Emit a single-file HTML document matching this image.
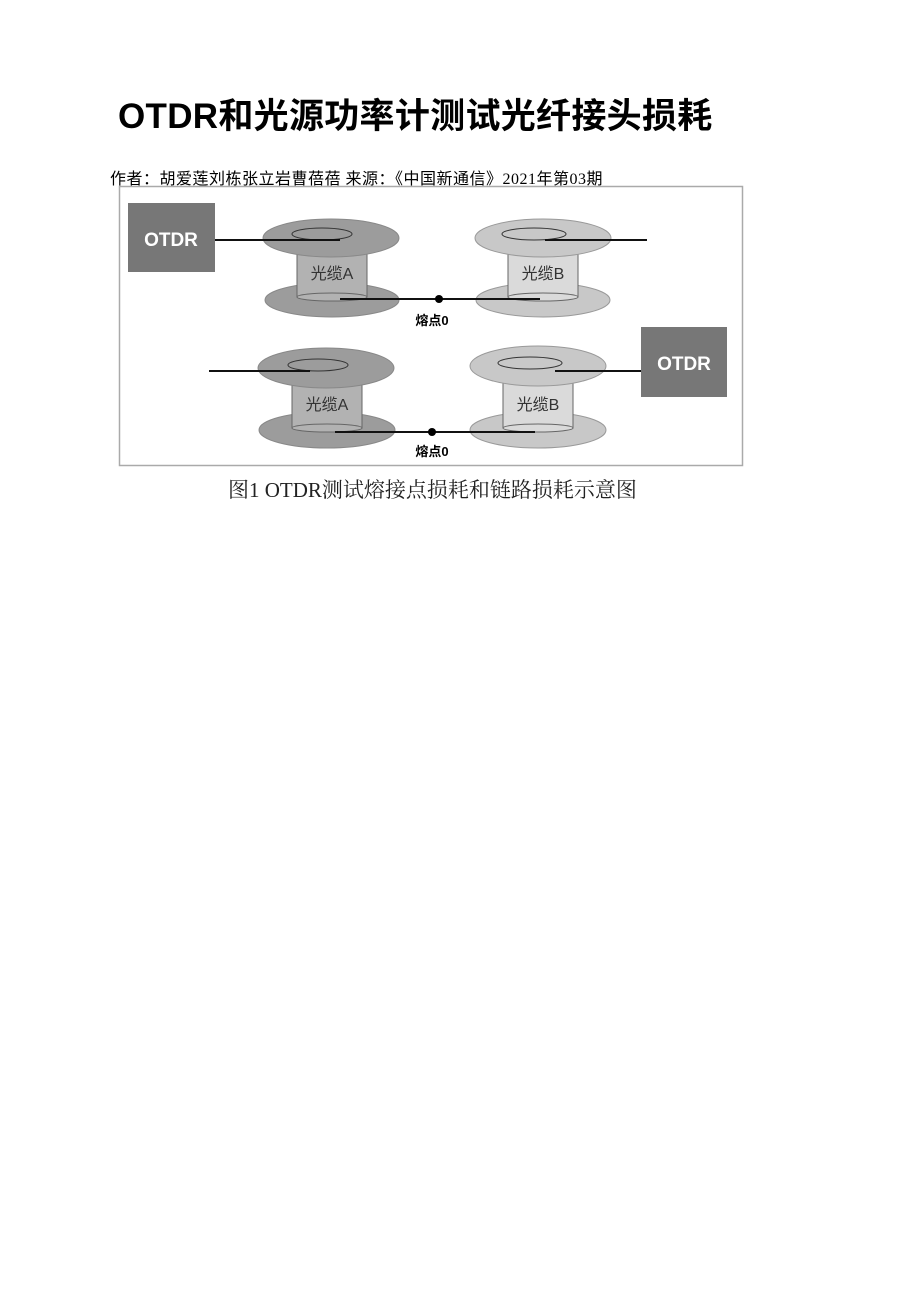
<!DOCTYPE html>
<html><head><meta charset="utf-8"><style>
body{margin:0;background:#fff;width:920px;height:1301px;position:relative;overflow:hidden}
.t{position:absolute;white-space:nowrap}
</style></head><body>
<div class="t" style="left:118px;top:88px;font:bold 35px 'Liberation Sans','Noto Sans CJK SC',sans-serif;letter-spacing:0.3px">OTDR和光源功率计测试光纤接头损耗</div>
<div class="t" style="left:110px;top:165px;font:16px 'Liberation Serif','Noto Sans CJK SC',sans-serif;letter-spacing:0.5px">作者：胡爱莲刘栋张立岩曹蓓蓓 来源：《中国新通信》2021年第03期</div>
<svg style="position:absolute;left:0;top:0" width="920" height="520">
<rect x="119.5" y="186.5" width="623" height="279" fill="#fff" stroke="#aaa" stroke-width="1.5"/>
<g font-family="'Liberation Sans','Noto Sans CJK SC',sans-serif">
<rect x="128" y="203" width="87" height="69" fill="#777"/>
<text x="171" y="246" fill="#fff" font-size="19" font-weight="bold" text-anchor="middle">OTDR</text>
<rect x="641" y="327" width="86" height="70" fill="#777"/>
<text x="684" y="370" fill="#fff" font-size="19" font-weight="bold" text-anchor="middle">OTDR</text>
<ellipse cx="332" cy="300" rx="67" ry="17" fill="#9c9c9c" stroke="#888"/>
<rect x="297" y="252" width="70" height="45" fill="#b2b2b2" stroke="#666"/>
<ellipse cx="332" cy="297" rx="35" ry="4" fill="#b2b2b2" stroke="#666"/>
<ellipse cx="331" cy="238" rx="68" ry="19" fill="#9c9c9c" stroke="#888"/>
<ellipse cx="322" cy="234" rx="30" ry="6" fill="none" stroke="#333"/>
<text x="332" y="279" font-size="16" text-anchor="middle" fill="#333">光缆A</text>
<ellipse cx="543" cy="300" rx="67" ry="17" fill="#c8c8c8" stroke="#999"/>
<rect x="508" y="252" width="70" height="45" fill="#dadada" stroke="#666"/>
<ellipse cx="543" cy="297" rx="35" ry="4" fill="#dadada" stroke="#666"/>
<ellipse cx="543" cy="238" rx="68" ry="19" fill="#c8c8c8" stroke="#999"/>
<ellipse cx="534" cy="234" rx="32" ry="6" fill="none" stroke="#333"/>
<text x="543" y="279" font-size="16" text-anchor="middle" fill="#333">光缆B</text>
<ellipse cx="327" cy="430" rx="68" ry="18" fill="#9c9c9c" stroke="#888"/>
<rect x="292" y="383" width="70" height="45" fill="#b2b2b2" stroke="#666"/>
<ellipse cx="327" cy="428" rx="35" ry="4" fill="#b2b2b2" stroke="#666"/>
<ellipse cx="326" cy="368" rx="68" ry="20" fill="#9c9c9c" stroke="#888"/>
<ellipse cx="318" cy="365" rx="30" ry="6" fill="none" stroke="#333"/>
<text x="327" y="410" font-size="16" text-anchor="middle" fill="#333">光缆A</text>
<ellipse cx="538" cy="430" rx="68" ry="18" fill="#c8c8c8" stroke="#999"/>
<rect x="503" y="383" width="70" height="45" fill="#dadada" stroke="#666"/>
<ellipse cx="538" cy="428" rx="35" ry="4" fill="#dadada" stroke="#666"/>
<ellipse cx="538" cy="366" rx="68" ry="20" fill="#c8c8c8" stroke="#999"/>
<ellipse cx="530" cy="363" rx="32" ry="6" fill="none" stroke="#333"/>
<text x="538" y="410" font-size="16" text-anchor="middle" fill="#333">光缆B</text>
<g stroke="#111" stroke-width="2">
<line x1="215" y1="240" x2="340" y2="240"/>
<line x1="545" y1="240" x2="647" y2="240"/>
<line x1="340" y1="299" x2="540" y2="299"/>
<line x1="209" y1="371" x2="310" y2="371"/>
<line x1="555" y1="371" x2="641" y2="371"/>
<line x1="335" y1="432" x2="535" y2="432"/>
</g>
<circle cx="439" cy="299" r="4" fill="#000"/>
<circle cx="432" cy="432" r="4" fill="#000"/>
<text x="432" y="325" font-size="13" font-weight="bold" text-anchor="middle">熔点0</text>
<text x="432" y="456" font-size="13" font-weight="bold" text-anchor="middle">熔点0</text>
</g>
</svg>
<div class="t" style="left:228px;top:474px;font:21px 'Liberation Serif','Noto Serif CJK SC',serif;color:#222">图1 OTDR测试熔接点损耗和链路损耗示意图</div>
</body></html>
